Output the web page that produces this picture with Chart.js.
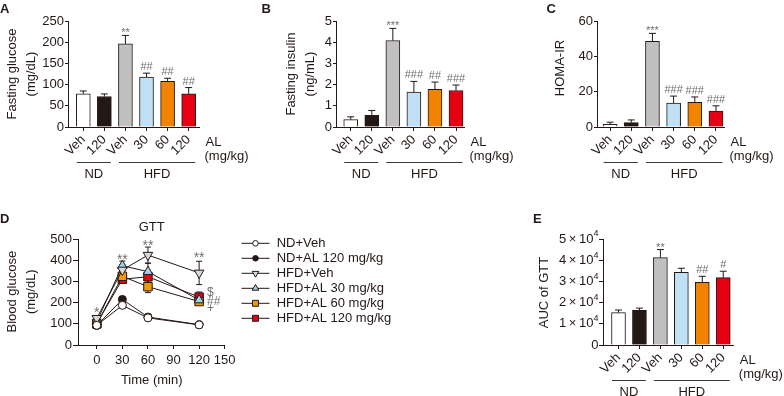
<!DOCTYPE html>
<html>
<head>
<meta charset="utf-8">
<script src="https://cdn.jsdelivr.net/npm/chart.js@4/dist/chart.umd.min.js"></script>
<style>
  body { margin: 0; background: #fff; }
  #wrap { position: relative; width: 784px; height: 396px; overflow: hidden; }
  canvas { position: absolute; }
</style>
</head>
<body>
<div id="wrap">
  <canvas id="chartA" width="258" height="200" style="left:0;top:0"></canvas>
  <canvas id="chartB" width="260" height="200" style="left:258px;top:0"></canvas>
  <canvas id="chartC" width="266" height="200" style="left:518px;top:0"></canvas>
  <canvas id="chartD" width="500" height="196" style="left:0;top:200px"></canvas>
  <canvas id="chartE" width="284" height="196" style="left:500px;top:200px"></canvas>
</div>
<script>
// bar panels share the same groups
const doseLabels = ["Veh", "120", "Veh", "30", "60", "120"];
const groupNames = ["ND", "HFD"];
const groupFrom = [0, 2];
const groupTo = [1, 5];

const glucoseMeans = [78, 72, 196, 118, 108, 78];
const glucoseErrors = [7, 6, 20, 9, 7, 15];
const glucoseMarks = ["", "", "**", "##", "##", "##"];

const insulinMeans = [0.35, 0.55, 4.08, 1.65, 1.78, 1.72];
const insulinErrors = [0.13, 0.23, 0.57, 0.5, 0.34, 0.26];
const insulinMarks = ["", "", "***", "###", "##", "###"];

const homaMeans = [1.5, 2.5, 48.5, 13.5, 14, 9];
const homaErrors = [1.2, 1.5, 4.5, 4, 3, 3];
const homaMarks = ["", "", "***", "###", "###", "###"];

const aucMeans = [15300, 16400, 41200, 34300, 29600, 31800];
const aucErrors = [1200, 1000, 3800, 1900, 2800, 3000];
const aucMarks = ["", "", "**", "", "##", "#"];

// GTT time course
const gttTimes = [0, 30, 60, 120];
const gttTicks = [0, 30, 60, 90, 120, 150];
const gttNames = ["ND+Veh", "ND+AL 120 mg/kg", "HFD+Veh", "HFD+AL 30 mg/kg", "HFD+AL 60 mg/kg", "HFD+AL 120 mg/kg"];
const gttNDVeh = [93, 187, 128, 95];
const gttNDAL120 = [92, 215, 132, 96];
const gttHFDVeh = [126, 354, 424, 340];
const gttHFDAL30 = [110, 374, 346, 212];
const gttHFDAL60 = [100, 324, 275, 205];
const gttHFDAL120 = [100, 310, 322, 226];
const gttNDVehErr = [6, 12, 6, 5];
const gttNDAL120Err = [6, 12, 6, 5];
const gttHFDVehErr = [10, 25, 38, 55];
const gttHFDAL30Err = [10, 22, 40, 18];
const gttHFDAL60Err = [8, 25, 28, 14];
const gttHFDAL120Err = [8, 20, 30, 24];
const gttMarks = ["*", "**", "**", "**"];
const gttMarkLevels = [165, 416, 482, 425];
const gttSideMarks = ["$", "##", "+"];
const gttSideLevels = [251, 212, 178];

const ink = "#231815";
const markInk = "#6f6f6f";
const barColors = ["#ffffff", "#231815", "#c0c0c0", "#bfe0f5", "#f08300", "#e60012"];
const gttStyles = [
  { shape: "circle", fill: "#ffffff", radius: 4, rotation: 0 },
  { shape: "circle", fill: "#231815", radius: 4, rotation: 0 },
  { shape: "triangle", fill: "#d9d9d9", radius: 5.5, rotation: 180 },
  { shape: "triangle", fill: "#9fd3f2", radius: 5.5, rotation: 0 },
  { shape: "rect", fill: "#f39800", radius: 6, rotation: 0 },
  { shape: "rect", fill: "#e60012", radius: 6, rotation: 0 },
];

Chart.defaults.font.family = "'Liberation Sans', Arial, Helvetica, sans-serif";
Chart.defaults.font.size = 13;
Chart.defaults.color = ink;

const FONT = "'Liberation Sans', Arial, Helvetica, sans-serif";

function setFont(ctx, size, bold) {
  ctx.font = (bold ? "bold " : "") + size + "px " + FONT;
}

// rotated text for the y titles
function vText(ctx, str, x, y) {
  ctx.save();
  ctx.translate(x, y);
  ctx.rotate(-Math.PI / 2);
  ctx.textAlign = "center";
  ctx.textBaseline = "middle";
  ctx.fillText(str, 0, 0);
  ctx.restore();
}

// put a glyph so its visible bottom sits on y
function markAbove(ctx, str, x, yBottom, size) {
  setFont(ctx, size);
  ctx.textAlign = "center";
  ctx.textBaseline = "alphabetic";
  const m = ctx.measureText(str);
  ctx.fillText(str, x, yBottom - m.actualBoundingBoxDescent);
}

// put a glyph centred on y
function markCentered(ctx, str, x, yMid, size, align) {
  setFont(ctx, size);
  ctx.textAlign = align || "center";
  ctx.textBaseline = "alphabetic";
  const m = ctx.measureText(str);
  ctx.fillText(str, x, yMid + (m.actualBoundingBoxAscent - m.actualBoundingBoxDescent) / 2);
}

function drawMarker(ctx, style, x, y, radius) {
  ctx.save();
  ctx.fillStyle = style.fill;
  ctx.strokeStyle = ink;
  ctx.lineWidth = 1;
  ctx.beginPath();
  if (style.shape === "circle") {
    ctx.arc(x, y, radius, 0, Math.PI * 2);
  } else if (style.shape === "rect") {
    const s = radius * Math.SQRT1_2;
    ctx.rect(x - s, y - s, s * 2, s * 2);
  } else {
    const dir = style.rotation ? -1 : 1;
    ctx.moveTo(x, y - dir * radius);
    ctx.lineTo(x + radius * 0.866, y + dir * radius * 0.5);
    ctx.lineTo(x - radius * 0.866, y + dir * radius * 0.5);
    ctx.closePath();
  }
  ctx.fill();
  ctx.stroke();
  ctx.restore();
}

function axisGrid(tickLength) {
  return { drawOnChartArea: false, drawTicks: true, tickLength: tickLength, color: ink, offset: false };
}

// ND / HFD brackets and the AL (mg/kg) label under a bar panel
function drawGroups(chart) {
  const { ctx, chartArea } = chart;
  const xs = chart.scales.x;
  const yLine = chartArea.bottom + 35.5;
  ctx.save();
  ctx.strokeStyle = "#3e3a39";
  ctx.fillStyle = ink;
  ctx.lineWidth = 1;
  setFont(ctx, 13);
  groupNames.forEach((name, g) => {
    const x1 = xs.getPixelForValue(groupFrom[g]) - 6.5;
    const x2 = xs.getPixelForValue(groupTo[g]) + 6.5;
    ctx.beginPath();
    ctx.moveTo(x1, yLine);
    ctx.lineTo(x2, yLine);
    ctx.stroke();
    ctx.textAlign = "center";
    ctx.textBaseline = "middle";
    ctx.fillText(name, (x1 + x2) / 2, yLine + 11.5);
  });
  ctx.textAlign = "left";
  ctx.textBaseline = "middle";
  ctx.fillText("AL", chartArea.right + 6.5, chartArea.bottom + 15);
  ctx.fillText("(mg/kg)", chartArea.right + 5.5, chartArea.bottom + 29.5);
  ctx.restore();
}

function barPanel(id, o) {
  const decor = {
    id: "decor" + id,
    afterDatasetsDraw(chart) {
      const { ctx } = chart;
      const xs = chart.scales.x;
      const ys = chart.scales.y;
      ctx.save();
      ctx.strokeStyle = ink;
      ctx.lineWidth = 1;
      o.means.forEach((v, i) => {
        const x = xs.getPixelForValue(i);
        const yTop = ys.getPixelForValue(v + o.errors[i]);
        const yBar = ys.getPixelForValue(v);
        ctx.beginPath();
        ctx.moveTo(x, yBar);
        ctx.lineTo(x, yTop);
        ctx.moveTo(x - 3.5, yTop);
        ctx.lineTo(x + 3.5, yTop);
        ctx.stroke();
        if (o.marks[i]) {
          ctx.fillStyle = markInk;
          markAbove(ctx, o.marks[i], x, yTop - 3, 11);
        }
      });
      ctx.restore();
    },
    afterDraw(chart) {
      const { ctx } = chart;
      ctx.save();
      ctx.fillStyle = ink;
      setFont(ctx, 13, true);
      ctx.textAlign = "left";
      ctx.textBaseline = "alphabetic";
      ctx.fillText(o.letter, o.letterX, o.letterY);
      setFont(ctx, 13);
      o.titles.forEach((t, k) => vText(ctx, t, o.titleX[k], o.titleY));
      if (o.sciTicks) {
        const ys = chart.scales.y;
        ys.ticks.forEach((t) => {
          const y = ys.getPixelForValue(t.value);
          const right = chart.chartArea.left - 4.5;
          setFont(ctx, 13);
          ctx.textBaseline = "middle";
          ctx.textAlign = "right";
          if (t.value === 0) {
            ctx.fillText("0", right, y);
            return;
          }
          setFont(ctx, 9);
          const supW = ctx.measureText("4").width;
          ctx.fillText("4", right, y - 5);
          setFont(ctx, 13);
          ctx.fillText(t.value / 10000 + "\u2009\u00d7\u200910", right - supW, y);
        });
      }
      ctx.restore();
      drawGroups(chart);
    },
  };

  return new Chart(document.getElementById(id).getContext("2d"), {
    type: "bar",
    data: {
      datasets: [
        {
          data: o.means.map((v, i) => ({ x: i, y: v })),
          backgroundColor: barColors,
          borderColor: ink,
          borderWidth: 1,
          barThickness: 14,
        },
      ],
    },
    options: {
      responsive: false,
      animation: false,
      events: [],
      layout: { padding: { left: 0, top: o.top, right: o.right, bottom: 0 } },
      plugins: { legend: { display: false }, tooltip: { enabled: false } },
      scales: {
        x: {
          type: "linear",
          bounds: "data",
          offset: false,
          min: o.xMin,
          max: o.xMax,
          afterBuildTicks: (s) => {
            s.ticks = doseLabels.map((_, i) => ({ value: i }));
          },
          afterFit: (s) => {
            s.height = o.axisHeight;
          },
          ticks: {
            autoSkip: false,
            minRotation: 45,
            maxRotation: 45,
            padding: 1,
            callback: (v) => doseLabels[v] ?? "",
          },
          grid: axisGrid(4),
          border: { color: ink, width: 1 },
        },
        y: {
          min: 0,
          max: o.yMax,
          afterFit: (s) => {
            s.width = o.axisWidth;
          },
          ticks: {
            stepSize: o.yStep,
            padding: 1,
            callback: o.sciTicks ? () => "" : (v) => v,
          },
          grid: axisGrid(o.yTick),
          border: { color: ink, width: 1 },
        },
      },
    },
    plugins: [decor],
  });
}

barPanel("chartA", {
  means: glucoseMeans, errors: glucoseErrors, marks: glucoseMarks,
  letter: "A", letterX: 0, letterY: 13,
  titles: ["Fasting glucose", "(mg/dL)"], titleX: [12.5, 31.5], titleY: 74,
  top: 21, right: 59, axisWidth: 68, axisHeight: 73, xMin: -0.725, xMax: 5.49,
  yMax: 250, yStep: 50, yTick: 3,
});

barPanel("chartB", {
  means: insulinMeans, errors: insulinErrors, marks: insulinMarks,
  letter: "B", letterX: 3.5, letterY: 13,
  titles: ["Fasting insulin", "(ng/mL)"], titleX: [33.7, 52.7], titleY: 74,
  top: 21, right: 54, axisWidth: 78, axisHeight: 73, xMin: -0.7, xMax: 5.38,
  yMax: 5, yStep: 1, yTick: 3,
});

barPanel("chartC", {
  means: homaMeans, errors: homaErrors, marks: homaMarks,
  letter: "C", letterX: 28.5, letterY: 13,
  titles: ["HOMA-IR"], titleX: [42], titleY: 68,
  top: 21, right: 60, axisWidth: 79, axisHeight: 73, xMin: -0.62, xMax: 5.38,
  yMax: 60, yStep: 20, yTick: 3,
});

barPanel("chartE", {
  means: aucMeans, errors: aucErrors, marks: aucMarks,
  letter: "E", letterX: 33, letterY: 23,
  titles: ["AUC of GTT"], titleX: [44.7], titleY: 92.5,
  top: 39, right: 50.7, axisWidth: 103, axisHeight: 51, xMin: -0.74, xMax: 5.48,
  yMax: 50000, yStep: 10000, yTick: 4, sciTicks: true,
});

// panel D: glucose tolerance test
const gttValues = [gttNDVeh, gttNDAL120, gttHFDVeh, gttHFDAL30, gttHFDAL60, gttHFDAL120];
const gttErrors = [gttNDVehErr, gttNDAL120Err, gttHFDVehErr, gttHFDAL30Err, gttHFDAL60Err, gttHFDAL120Err];

const gttDecor = {
  id: "gttDecor",
  beforeDatasetsDraw(chart) {
    const { ctx } = chart;
    const xs = chart.scales.x;
    const ys = chart.scales.y;
    ctx.save();
    ctx.strokeStyle = ink;
    ctx.lineWidth = 1;
    gttValues.forEach((vals, k) => {
      vals.forEach((v, i) => {
        const x = xs.getPixelForValue(gttTimes[i]);
        const y1 = ys.getPixelForValue(v + gttErrors[k][i]);
        const y2 = ys.getPixelForValue(v - gttErrors[k][i]);
        ctx.beginPath();
        ctx.moveTo(x, y1);
        ctx.lineTo(x, y2);
        ctx.moveTo(x - 3, y1);
        ctx.lineTo(x + 3, y1);
        ctx.moveTo(x - 3, y2);
        ctx.lineTo(x + 3, y2);
        ctx.stroke();
      });
    });
    ctx.restore();
  },
  afterDraw(chart) {
    const { ctx, chartArea } = chart;
    const xs = chart.scales.x;
    const ys = chart.scales.y;
    ctx.save();
    ctx.fillStyle = ink;
    setFont(ctx, 13, true);
    ctx.textAlign = "left";
    ctx.textBaseline = "alphabetic";
    ctx.fillText("D", 0, 23);
    setFont(ctx, 13);
    ctx.textAlign = "center";
    ctx.textBaseline = "middle";
    ctx.fillText("GTT", 151.7, 27);
    ctx.fillText("Time (min)", 151.7, 180);
    vText(ctx, "Blood glucose", 12.5, 91.7);
    vText(ctx, "(mg/dL)", 31.7, 91.7);

    ctx.fillStyle = markInk;
    gttMarks.forEach((m, i) => {
      markCentered(ctx, m, xs.getPixelForValue(gttTimes[i]), ys.getPixelForValue(gttMarkLevels[i]), 14);
    });
    const sideX = xs.getPixelForValue(gttTimes[3]) + 8;
    gttSideMarks.forEach((m, i) => {
      markCentered(ctx, m, sideX, ys.getPixelForValue(gttSideLevels[i]), 12, "left");
    });

    // legend
    setFont(ctx, 13);
    gttNames.forEach((name, k) => {
      const y = 43.3 + k * 15;
      ctx.strokeStyle = ink;
      ctx.lineWidth = 1;
      ctx.beginPath();
      ctx.moveTo(241.5, y);
      ctx.lineTo(269.5, y);
      ctx.stroke();
      drawMarker(ctx, gttStyles[k], 255.5, y, gttStyles[k].radius * 0.7);
      ctx.fillStyle = ink;
      ctx.textAlign = "left";
      ctx.textBaseline = "middle";
      ctx.fillText(name, 276.7, y + 0.5);
    });
    ctx.restore();
  },
};

new Chart(document.getElementById("chartD").getContext("2d"), {
  type: "line",
  data: {
    datasets: gttValues.map((vals, k) => ({
      label: gttNames[k],
      data: gttTimes.map((t, i) => ({ x: t, y: vals[i] })),
      borderColor: ink,
      borderWidth: 1,
      tension: 0,
      pointStyle: gttStyles[k].shape,
      pointRadius: gttStyles[k].radius,
      pointRotation: gttStyles[k].rotation,
      pointBackgroundColor: gttStyles[k].fill,
      pointBorderColor: ink,
      pointBorderWidth: 1,
      clip: false,
    })),
  },
  options: {
    responsive: false,
    animation: false,
    events: [],
    layout: { padding: { left: 0, top: 39, right: 275.3, bottom: 0 } },
    plugins: { legend: { display: false }, tooltip: { enabled: false } },
    scales: {
      x: {
        type: "linear",
        bounds: "data",
        min: -22,
        max: 150,
        afterBuildTicks: (s) => {
          s.ticks = gttTicks.map((v) => ({ value: v }));
        },
        afterFit: (s) => {
          s.height = 51;
        },
        ticks: { autoSkip: false, maxRotation: 0, padding: 4 },
        grid: axisGrid(4),
        border: { color: ink, width: 1 },
      },
      y: {
        min: 0,
        max: 500,
        afterFit: (s) => {
          s.width = 78;
        },
        ticks: { stepSize: 100, padding: 1 },
        grid: axisGrid(5),
        border: { color: ink, width: 1 },
      },
    },
  },
  plugins: [gttDecor],
});
</script>
</body>
</html>
